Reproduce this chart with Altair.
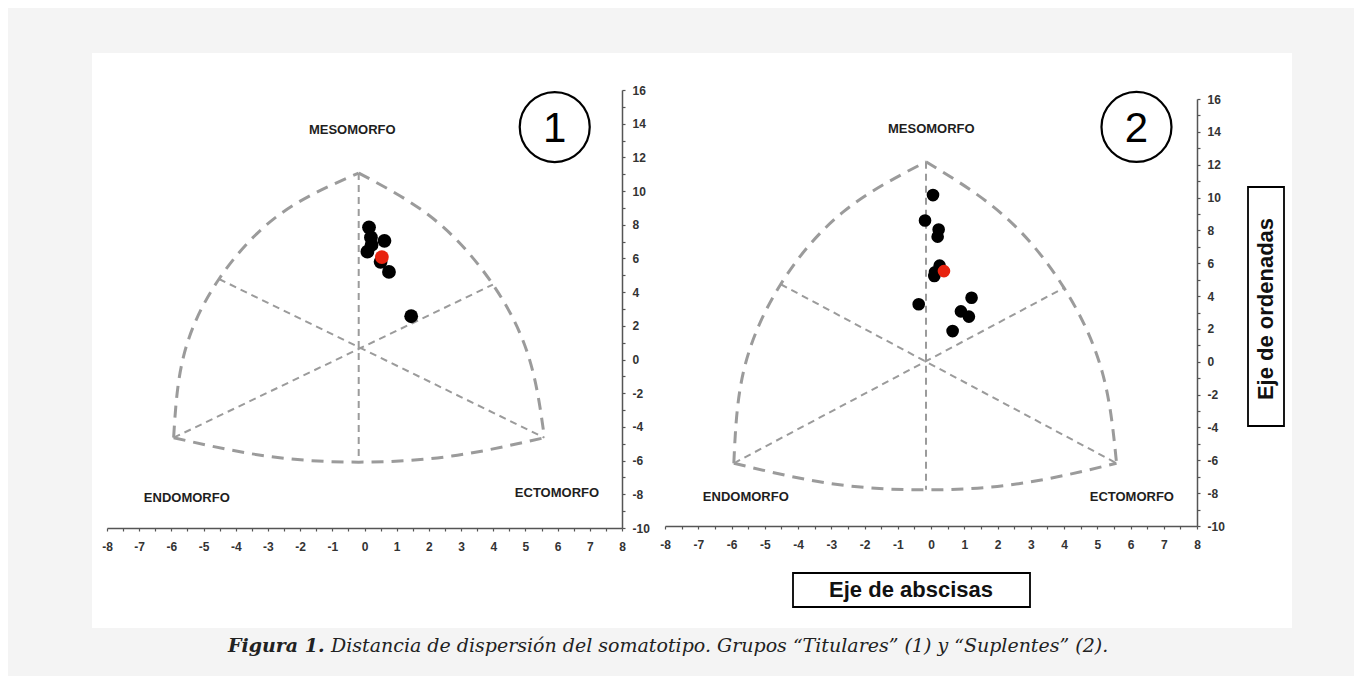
import altair as alt
import pandas as pd

# ---------------- values ----------------
# Panel 1 - "Titulares"
p1_x = [0.14, 0.20, 0.22, 0.09, 0.62, 0.50, 0.76, 1.45]
p1_y = [7.85, 7.25, 6.80, 6.40, 7.05, 5.80, 5.20, 2.57]
p1_mean_x = [0.54]
p1_mean_y = [6.08]

# Panel 2 - "Suplentes"
p2_x = [0.06, -0.18, 0.23, 0.20, 0.26, 0.12, 0.10, -0.37, 1.22, 0.90, 1.14, 0.65]
p2_y = [10.15, 8.60, 8.05, 7.62, 5.85, 5.45, 5.22, 3.50, 3.90, 3.07, 2.75, 1.87]
p2_mean_x = [0.39]
p2_mean_y = [5.52]

# Somatochart frame, panel 1 (points read along each dashed arc / line)
p1_arc_left_x = [-5.93, -5.61, -4.52, -2.63, -0.18]
p1_arc_left_y = [-4.64, 0.28, 4.78, 8.62, 11.07]
p1_arc_right_x = [-0.18, 2.15, 3.99, 5.11, 5.59]
p1_arc_right_y = [11.07, 8.34, 4.45, 0.11, -4.64]
p1_arc_bottom_x = [-5.93, -3.05, -0.18, 2.71, 5.59]
p1_arc_bottom_y = [-4.64, -5.73, -6.09, -5.73, -4.64]
p1_line_meso_x = [-0.18, -0.18]
p1_line_meso_y = [11.07, -6.09]
p1_line_endo_x = [-5.93, 3.99]
p1_line_endo_y = [-4.64, 4.45]
p1_line_ecto_x = [-4.52, 5.59]
p1_line_ecto_y = [4.78, -4.64]

# Somatochart frame, panel 2
p2_arc_left_x = [-5.93, -5.63, -4.52, -2.63, -0.15]
p2_arc_left_y = [-6.18, -0.52, 4.72, 9.14, 12.18]
p2_arc_right_x = [-0.15, 2.18, 4.00, 5.15, 5.58]
p2_arc_right_y = [12.18, 8.92, 4.50, -0.63, -6.18]
p2_arc_bottom_x = [-5.93, -3.03, -0.15, 2.72, 5.58]
p2_arc_bottom_y = [-6.18, -7.41, -7.80, -7.40, -6.18]
p2_line_meso_x = [-0.15, -0.15]
p2_line_meso_y = [12.18, -7.80]
p2_line_endo_x = [-5.93, 4.00]
p2_line_endo_y = [-6.18, 4.50]
p2_line_ecto_x = [-4.52, 5.58]
p2_line_ecto_y = [4.72, -6.18]

# Region labels
region_names = ["MESOMORFO", "ENDOMORFO", "ECTOMORFO"]
p1_label_x = [-0.38, -5.52, 5.98]
p1_label_y = [13.6, -8.2, -7.94]
p2_label_x = [0.01, -5.57, 6.04]
p2_label_y = [14.2, -8.23, -8.23]

# Circled panel numbers
badge_text = ["1", "2"]
badge_x = [5.91, 6.18]
badge_y = [13.8, 14.3]

# Axes
x_domain = [-8, 8]
y_domain = [-10, 16]
x_tick_values = [v / 2 for v in range(-16, 17)]      # labelled on integers
y_tick_values = list(range(-10, 17))                  # labelled on even numbers

caption_bold = "Figura 1."
caption_rest = "Distancia de dispersión del somatotipo. Grupos “Titulares” (1) y “Suplentes” (2)."
x_title = "Eje de abscisas"
y_title = "Eje de ordenadas"

# ---------------- styles ----------------
FRAME = "#9b9b9b"
AXIS = "#555555"
LABEL_FONT = "Liberation Sans"


def frame_df(parts):
    rows = []
    for name, (xs, ys) in parts.items():
        for i, (a, b) in enumerate(zip(xs, ys)):
            rows.append({"seg": name, "ord": i, "x": a, "y": b})
    return pd.DataFrame(rows)


def axes():
    xa = alt.Axis(values=x_tick_values, labelExpr="datum.value % 1 == 0 ? '' + datum.value : ''",
                  title=None, grid=False, domainColor=AXIS, domainWidth=1.5, tickColor=AXIS,
                  tickWidth=1.2, tickSize=3, labelFont=LABEL_FONT, labelFontSize=12,
                  labelFontWeight="bold", labelColor="#333333", labelPadding=10,
                  labelOverlap=False, labelFlush=False, zindex=1)
    ya = alt.Axis(values=y_tick_values, orient="right",
                  labelExpr="datum.value % 2 == 0 ? '' + datum.value : ''",
                  title=None, grid=False, domainColor=AXIS, domainWidth=1.5, tickColor=AXIS,
                  tickWidth=1.2, tickSize=3, labelFont=LABEL_FONT, labelFontSize=12,
                  labelFontWeight="bold", labelColor="#333333", labelPadding=7,
                  labelOverlap=False, labelFlush=False, zindex=1)
    return xa, ya


def panel(idx, w, h, yrange, pts, mean, arcs, lines, labels, dot_size, extra_back, extra_front):
    xa, ya = axes()
    xs = alt.Scale(domain=x_domain, nice=False, zero=False)
    ys = alt.Scale(domain=y_domain, nice=False, zero=False, range=yrange)
    X = alt.X("x:Q", scale=xs, axis=xa)
    Y = alt.Y("y:Q", scale=ys, axis=ya)

    arcs_layer = alt.Chart(frame_df(arcs)).mark_line(
        interpolate="natural", strokeDash=[12, 8], strokeWidth=3, color=FRAME
    ).encode(x=X, y=Y, detail="seg:N", order="ord:Q")
    lines_layer = alt.Chart(frame_df(lines)).mark_line(
        strokeDash=[7, 5], strokeWidth=2, color=FRAME
    ).encode(x=X, y=Y, detail="seg:N", order="ord:Q")
    pts_layer = alt.Chart(pd.DataFrame({"x": pts[0], "y": pts[1]})).mark_circle(
        size=dot_size, color="black", opacity=1
    ).encode(x=X, y=Y)
    mean_layer = alt.Chart(pd.DataFrame({"x": mean[0], "y": mean[1]})).mark_circle(
        size=dot_size, color="#e8230f", opacity=1
    ).encode(x=X, y=Y)
    lab_layer = alt.Chart(pd.DataFrame({"x": labels[0], "y": labels[1], "t": region_names})).mark_text(
        font=LABEL_FONT, fontWeight="bold", fontSize=13, color="#1e1e1e", baseline="middle"
    ).encode(x=X, y=Y, text="t:N")
    bdf = pd.DataFrame({"x": [badge_x[idx]], "y": [badge_y[idx]], "t": [badge_text[idx]]})
    ring = alt.Chart(bdf).mark_point(
        shape="circle", size=4900, filled=False, stroke="black", strokeWidth=2.2, opacity=1
    ).encode(x=X, y=Y)
    num = alt.Chart(bdf).mark_text(
        font=LABEL_FONT, fontSize=42, color="black", baseline="middle", dy=2
    ).encode(x=X, y=Y, text="t:N")

    layers = extra_back + [arcs_layer, lines_layer, pts_layer, mean_layer, lab_layer, ring, num] + extra_front
    return alt.layer(*layers).properties(width=w, height=h)


one = pd.DataFrame({"k": [0]})

# white sheet behind both panels (pixel box of the figure frame)
sheet = alt.Chart(one).mark_rect(color="white").encode(
    x=alt.value(-15), x2=alt.value(1185), y=alt.value(-37), y2=alt.value(538))

cap1 = alt.Chart(pd.DataFrame({"t": [caption_bold]})).mark_text(
    font="DejaVu Serif", fontStyle="italic", fontWeight="bold", fontSize=19, align="left",
    baseline="alphabetic", color="#222222"
).encode(x=alt.value(121), y=alt.value(562), text="t:N")
cap2 = alt.Chart(pd.DataFrame({"t": [caption_rest]})).mark_text(
    font="DejaVu Serif", fontStyle="italic", fontSize=19, align="left",
    baseline="alphabetic", color="#222222"
).encode(x=alt.value(224), y=alt.value(562), text="t:N")

# axis-title boxes of panel 2
xbox = alt.Chart(one).mark_rect(fill="white", stroke="black", strokeWidth=1.8).encode(
    x=alt.value(128), x2=alt.value(365), y=alt.value(483), y2=alt.value(517))
xtxt = alt.Chart(pd.DataFrame({"t": [x_title]})).mark_text(
    font=LABEL_FONT, fontWeight="bold", fontSize=22, color="#111111", baseline="middle"
).encode(x=alt.value(246), y=alt.value(500), text="t:N")
ybox = alt.Chart(one).mark_rect(fill="white", stroke="black", strokeWidth=1.8).encode(
    x=alt.value(583), x2=alt.value(619), y=alt.value(97), y2=alt.value(336))
ytxt = alt.Chart(pd.DataFrame({"t": [y_title]})).mark_text(
    font=LABEL_FONT, fontWeight="bold", fontSize=22, color="#111111", baseline="middle", angle=270
).encode(x=alt.value(601), y=alt.value(219), text="t:N")

panel1 = panel(
    0, 515, 438, [438, 0], (p1_x, p1_y), (p1_mean_x, p1_mean_y),
    {"l": (p1_arc_left_x, p1_arc_left_y), "r": (p1_arc_right_x, p1_arc_right_y),
     "b": (p1_arc_bottom_x, p1_arc_bottom_y)},
    {"m": (p1_line_meso_x, p1_line_meso_y), "n": (p1_line_endo_x, p1_line_endo_y),
     "c": (p1_line_ecto_x, p1_line_ecto_y)},
    (p1_label_x, p1_label_y), 190, [sheet], [cap1, cap2])

panel2 = panel(
    1, 532, 436, [436, 9], (p2_x, p2_y), (p2_mean_x, p2_mean_y),
    {"l": (p2_arc_left_x, p2_arc_left_y), "r": (p2_arc_right_x, p2_arc_right_y),
     "b": (p2_arc_bottom_x, p2_arc_bottom_y)},
    {"m": (p2_line_meso_x, p2_line_meso_y), "n": (p2_line_endo_x, p2_line_endo_y),
     "c": (p2_line_ecto_x, p2_line_ecto_y)},
    (p2_label_x, p2_label_y), 160, [], [xbox, xtxt, ybox, ytxt])

chart = alt.hconcat(panel1, panel2, spacing=43, bounds="flush").resolve_scale(
    x="independent", y="independent"
).properties(
    padding={"left": 84, "top": 45, "right": 62, "bottom": 20},
    background="#f4f4f4",
).configure_view(stroke=None)

chart.save("out.html", embed_options={"renderer": "svg", "actions": False})
